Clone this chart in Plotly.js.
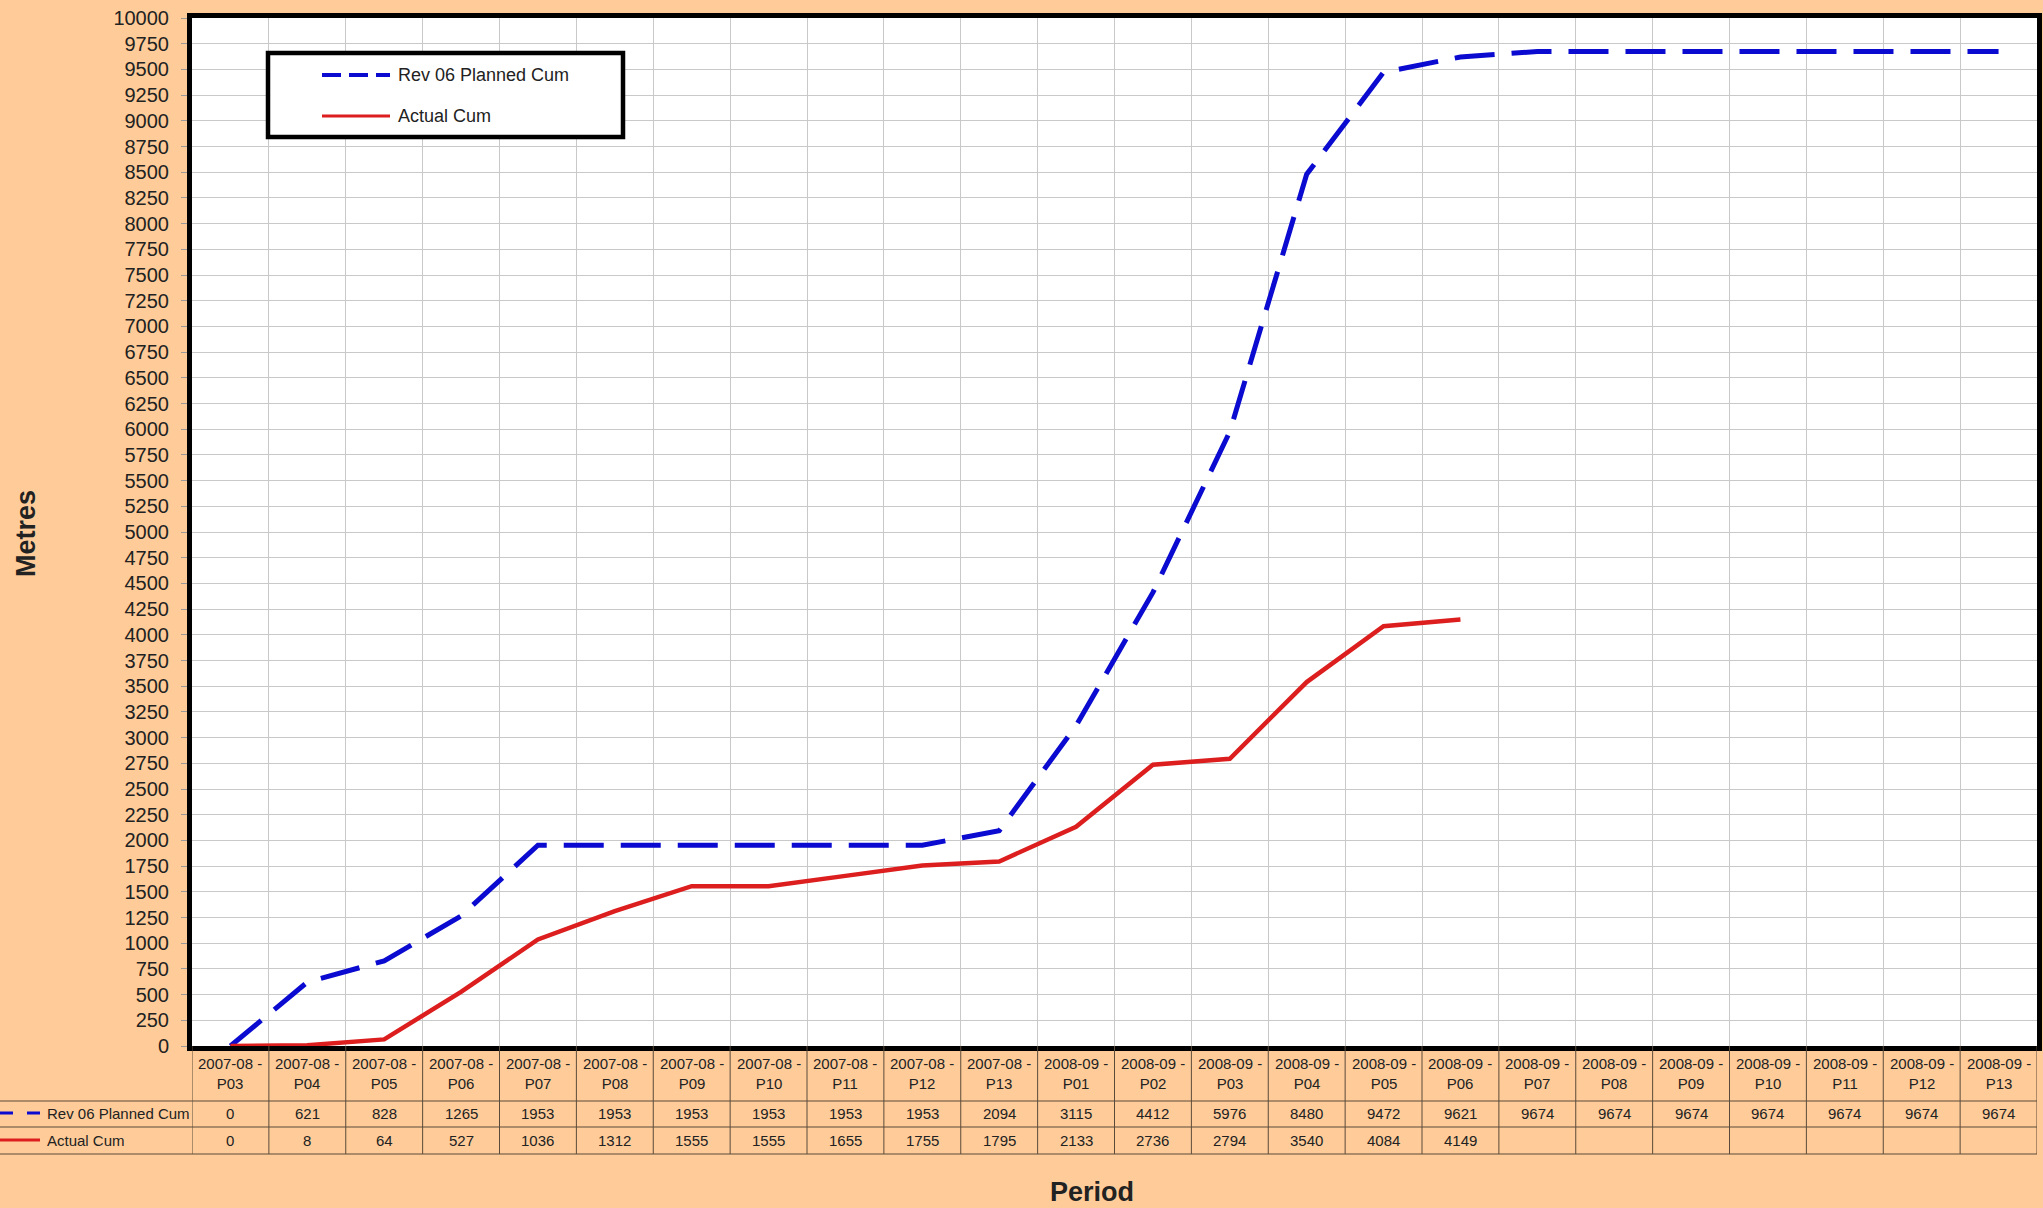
<!DOCTYPE html>
<html>
<head>
<meta charset="utf-8">
<script src="https://cdn.plot.ly/plotly-3.0.1.min.js"></script>
<style>
  html, body { margin: 0; padding: 0; background: #FFCC99; }
  #plot { width: 2043px; height: 1208px; }
</style>
</head>
<body>
<div id="plot"></div>
<script>
// periods: 2007-08 P03..P13, then 2008-09 P01..P13
var years = ["2007-08", "2007-08", "2007-08", "2007-08", "2007-08", "2007-08", "2007-08", "2007-08", "2007-08", "2007-08", "2007-08",
             "2008-09", "2008-09", "2008-09", "2008-09", "2008-09", "2008-09", "2008-09", "2008-09", "2008-09", "2008-09", "2008-09", "2008-09", "2008-09"]
var periods = ["P03", "P04", "P05", "P06", "P07", "P08", "P09", "P10", "P11", "P12", "P13",
               "P01", "P02", "P03", "P04", "P05", "P06", "P07", "P08", "P09", "P10", "P11", "P12", "P13"]

var plannedCum = [0, 621, 828, 1265, 1953, 1953, 1953, 1953, 1953, 1953, 2094,
                  3115, 4412, 5976, 8480, 9472, 9621, 9674, 9674, 9674, 9674, 9674, 9674, 9674]
var actualCum = [0, 8, 64, 527, 1036, 1312, 1555, 1555, 1655, 1755, 1795,
                 2133, 2736, 2794, 3540, 4084, 4149, null, null, null, null, null, null, null]

var plannedName = "Rev 06 Planned Cum"
var actualName = "Actual Cum"

var categories = years.map(function(y, i) {
  return y + " - " + periods[i]
})

var blue = "#0a0ad0"
var red = "#dc1e1e"
var ink = "#222222"
var font = "Liberation Sans, Arial, sans-serif"

// plot area in pixels
var ML = 192, MR = 6, MT = 18, MB = 162
var W = 2043 - ML - MR
var H = 1208 - MT - MB

var plannedTrace = {
  x: categories,
  y: plannedCum,
  name: plannedName,
  type: "scatter",
  mode: "lines",
  line: { color: blue, width: 5, dash: "40px,17px" },
  hoverinfo: "skip"
}

var actualTrace = {
  x: categories,
  y: actualCum,
  name: actualName,
  type: "scatter",
  mode: "lines",
  line: { color: red, width: 4.5 },
  connectgaps: false,
  hoverinfo: "skip"
}

var shapes = []
var annotations = []

// legend box inside the plot
function px(x) { return (x - ML) / W }
function py(y) { return (MT + H - y) / H }

shapes.push({
  type: "rect", xref: "paper", yref: "paper", layer: "above",
  x0: px(268), x1: px(623), y0: py(137), y1: py(53),
  line: { color: "black", width: 4.5 }, fillcolor: "white"
})
shapes.push({
  type: "line", xref: "paper", yref: "paper", layer: "above",
  x0: px(322), x1: px(390), y0: py(75), y1: py(75),
  line: { color: blue, width: 4, dash: "19px,8px" }
})
shapes.push({
  type: "line", xref: "paper", yref: "paper", layer: "above",
  x0: px(322), x1: px(390), y0: py(116), y1: py(116),
  line: { color: red, width: 3 }
})
annotations.push({
  xref: "paper", yref: "paper", x: px(396), y: py(75), xanchor: "left", yanchor: "middle",
  text: plannedName, showarrow: false, font: { family: font, size: 18, color: ink }
})
annotations.push({
  xref: "paper", yref: "paper", x: px(396), y: py(116), xanchor: "left", yanchor: "middle",
  text: actualName, showarrow: false, font: { family: font, size: 18, color: ink }
})

// axis titles
annotations.push({
  xref: "paper", yref: "paper", x: px(1092), y: py(1192), xanchor: "center", yanchor: "middle",
  text: "<b>Period</b>", showarrow: false, font: { family: font, size: 27, color: ink }
})
annotations.push({
  xref: "paper", yref: "paper", x: px(26), y: py(534), xanchor: "center", yanchor: "middle",
  text: "<b>Metres</b>", textangle: -90, showarrow: false, font: { family: font, size: 27, color: ink }
})

// data table under the chart
var rowPlanned = -67, rowActual = -94
var tableLine = { color: "#5a4a3a", width: 1 }
var cellFont = { family: font, size: 15, color: ink }

categories.forEach(function(cat, i) {
  annotations.push({
    x: cat, xref: "x", y: 0, yref: "paper", yanchor: "top", yshift: -7,
    text: years[i] + " -<br>" + periods[i], showarrow: false, font: cellFont
  })
  annotations.push({
    x: cat, xref: "x", y: 0, yref: "paper", yanchor: "middle", yshift: rowPlanned,
    text: String(plannedCum[i]), showarrow: false, font: cellFont
  })
  if (actualCum[i] !== null) {
    annotations.push({
      x: cat, xref: "x", y: 0, yref: "paper", yanchor: "middle", yshift: rowActual,
      text: String(actualCum[i]), showarrow: false, font: cellFont
    })
  }
})

for (var b = 0; b <= categories.length; b++) {
  shapes.push({
    type: "line", xref: "x", yref: "paper", ysizemode: "pixel", yanchor: 0,
    x0: b - 0.5, x1: b - 0.5, y0: 0, y1: -108, line: tableLine
  })
}
;[-55, -81, -108].forEach(function(yy) {
  shapes.push({
    type: "line", xref: "paper", yref: "paper", ysizemode: "pixel", yanchor: 0,
    x0: -ML / W, x1: 1, y0: yy, y1: yy, line: tableLine
  })
})

// row labels with line keys
shapes.push({
  type: "line", xref: "paper", yref: "paper", ysizemode: "pixel", yanchor: 0,
  x0: -ML / W, x1: (40 - ML) / W, y0: rowPlanned, y1: rowPlanned,
  line: { color: blue, width: 3, dash: "13px,14px" }
})
shapes.push({
  type: "line", xref: "paper", yref: "paper", ysizemode: "pixel", yanchor: 0,
  x0: -ML / W, x1: (40 - ML) / W, y0: rowActual, y1: rowActual,
  line: { color: red, width: 3 }
})
annotations.push({
  xref: "paper", yref: "paper", x: (45 - ML) / W, y: 0, yshift: rowPlanned,
  xanchor: "left", yanchor: "middle", text: plannedName, showarrow: false, font: cellFont
})
annotations.push({
  xref: "paper", yref: "paper", x: (45 - ML) / W, y: 0, yshift: rowActual,
  xanchor: "left", yanchor: "middle", text: actualName, showarrow: false, font: cellFont
})

var layout = {
  width: 2043,
  height: 1208,
  margin: { l: ML, r: MR, t: MT, b: MB },
  paper_bgcolor: "#FFCC99",
  plot_bgcolor: "white",
  showlegend: false,
  font: { family: font, color: ink },
  xaxis: {
    type: "category",
    range: [-0.5, categories.length - 0.5],
    tickson: "boundaries",
    showticklabels: false,
    ticks: "",
    showgrid: true,
    gridcolor: "#c9c9c9",
    gridwidth: 1,
    showline: true,
    linecolor: "black",
    linewidth: 5,
    mirror: true,
    zeroline: false
  },
  yaxis: {
    range: [0, 10000],
    tick0: 0,
    dtick: 250,
    tickformat: "d",
    ticks: "outside",
    ticklen: 6,
    tickcolor: "#999",
    ticklabelstandoff: 8,
    tickfont: { size: 20, family: font, color: ink },
    showgrid: true,
    gridcolor: "#c9c9c9",
    gridwidth: 1,
    showline: true,
    linecolor: "black",
    linewidth: 5,
    mirror: true,
    zeroline: false
  },
  shapes: shapes,
  annotations: annotations
}

Plotly.newPlot("plot", [plannedTrace, actualTrace], layout, { displayModeBar: false, staticPlot: true })
</script>
</body>
</html>
